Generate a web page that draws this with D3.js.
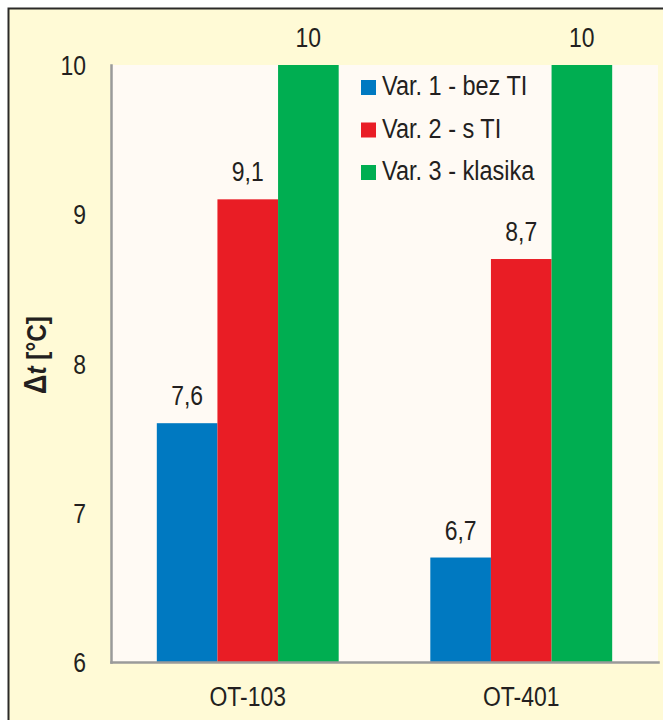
<!DOCTYPE html>
<html>
<head>
<meta charset="utf-8">
<script src="https://cdn.jsdelivr.net/npm/d3@7"></script>
<style>
  html, body { margin: 0; padding: 0; background: #fff; }
  svg { display: block; }
  text { font-family: "Liberation Sans", Arial, sans-serif; fill: #231f20; }
</style>
</head>
<body>
<svg id="chart" width="663" height="720"></svg>
<script>
// Temperature difference per variant and unit
const categories = ["OT-103", "OT-401"];
const seriesNames = ["Var. 1 - bez TI", "Var. 2 - s TI", "Var. 3 - klasika"];
const var1 = [7.6, 6.7];
const var2 = [9.1, 8.7];
const var3 = [10, 10];
const seriesColors = ["#0079c1", "#e91d25", "#00ae51"];
const yTicks = [6, 7, 8, 9, 10];

const seriesValues = [var1, var2, var3];
const rows = categories.map((c, i) => ({
  category: c,
  values: seriesNames.map((s, j) => ({ series: s, value: seriesValues[j][i], color: seriesColors[j] }))
}));

const fmt = d3.formatLocale({ decimal: ",", thousands: ".", grouping: [3], currency: ["", ""] }).format("~g");
const SX = 0.85; // horizontal condensing of the lettering

const svg = d3.select("#chart");
const plot = { left: 111, right: 658, top: 65, bottom: 662 };

// Frame and panel
svg.append("rect").attr("x", 0).attr("y", 0).attr("width", 663).attr("height", 720).attr("fill", "#ffffff");
svg.append("rect")
  .attr("x", 8.5).attr("y", 8.5).attr("width", 700).attr("height", 760)
  .attr("fill", "#fffad6").attr("stroke", "#2b2a28").attr("stroke-width", 2);
svg.append("rect")
  .attr("x", plot.left).attr("y", plot.top)
  .attr("width", plot.right - plot.left).attr("height", plot.bottom - plot.top)
  .attr("fill", "#fffaf4");

const x0 = d3.scaleBand().domain(categories).range([plot.left, plot.right])
  .paddingInner(0.335).paddingOuter(0.1675);
const x1 = d3.scaleBand().domain(seriesNames).range([0, x0.bandwidth()]);
const y = d3.scaleLinear().domain([6, 10]).range([plot.bottom, plot.top]);

// Bars
const groups = svg.append("g").selectAll("g").data(rows).join("g")
  .attr("transform", d => `translate(${x0(d.category)},0)`);
groups.selectAll("rect").data(d => d.values).join("rect")
  .attr("x", d => x1(d.series))
  .attr("y", d => y(d.value))
  .attr("width", x1.bandwidth())
  .attr("height", d => y(6) - y(d.value))
  .attr("fill", d => d.color);

// Value labels
groups.selectAll("text").data(d => d.values).join("text")
  .attr("transform", d => `translate(${x1(d.series) + x1.bandwidth() / 2},${y(d.value) - 18}) scale(${SX},1)`)
  .attr("text-anchor", "middle")
  .attr("font-size", 27)
  .text(d => fmt(d.value));

// Axes
const yAxis = svg.append("g").attr("transform", `translate(${plot.left},0)`)
  .call(d3.axisLeft(y).tickValues(yTicks).tickSize(0).tickSizeOuter(0).tickPadding(0).tickFormat(fmt));
yAxis.select(".domain").attr("stroke", "#9a9a9a").attr("stroke-width", 2.5).attr("stroke-linecap", "square");
yAxis.selectAll(".tick text")
  .attr("font-size", 27).attr("fill", "#231f20")
  .attr("font-family", "\"Liberation Sans\", Arial, sans-serif")
  .attr("x", 0).attr("dy", "0.36em")
  .attr("text-anchor", "end")
  .attr("transform", `translate(-25,0) scale(${SX},1)`);

const xAxis = svg.append("g").attr("transform", `translate(0,${plot.bottom})`)
  .call(d3.axisBottom(x0).tickSize(0).tickSizeOuter(0));
xAxis.select(".domain").attr("stroke", "#9a9a9a").attr("stroke-width", 2.5).attr("stroke-linecap", "square");
xAxis.selectAll(".tick text")
  .attr("font-size", 27).attr("fill", "#231f20")
  .attr("font-family", "\"Liberation Sans\", Arial, sans-serif")
  .attr("y", 0).attr("dy", 0)
  .attr("transform", `translate(0,44) scale(${SX},1)`);

// Y axis title
const title = svg.append("text")
  .attr("transform", `translate(46,355) rotate(-90) scale(0.87,1)`)
  .attr("text-anchor", "middle")
  .attr("font-size", 28)
  .attr("font-weight", "bold");
title.append("tspan").attr("font-size", 31).text("Δ");
title.append("tspan").attr("font-style", "italic").text("t");
title.append("tspan").text(" [°C]");

// Legend
const legend = svg.append("g").attr("transform", "translate(361,0)")
  .selectAll("g").data(seriesNames).join("g")
  .attr("transform", (d, i) => `translate(0,${95 + i * 42.5})`);
legend.append("rect")
  .attr("x", 0).attr("y", -15).attr("width", 15).attr("height", 15)
  .attr("fill", (d, i) => seriesColors[i]);
legend.append("text")
  .attr("transform", `translate(21,0) scale(0.87,1)`)
  .attr("font-size", 27)
  .text(d => d);
</script>
</body>
</html>
